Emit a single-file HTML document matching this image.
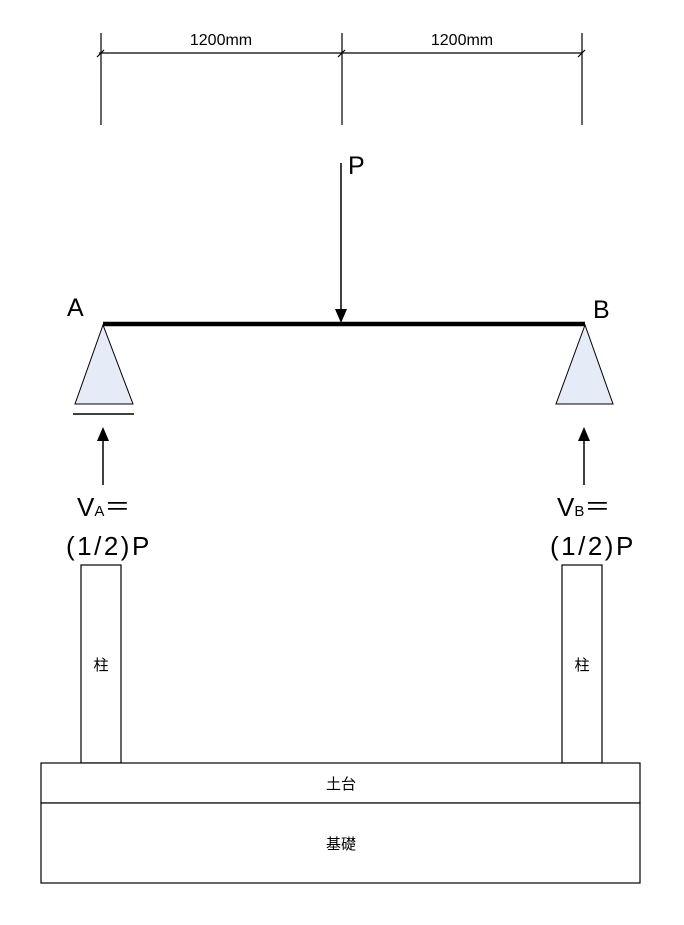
<!DOCTYPE html>
<html><head><meta charset="utf-8"><style>body{margin:0;background:#fff}</style></head><body>
<svg width="684" height="920" xmlns="http://www.w3.org/2000/svg" font-family="Liberation Sans, Noto Sans CJK JP, sans-serif">
<g stroke="#000" stroke-width="1.2" fill="none">
<line x1="99" y1="53" x2="582" y2="53"/>
<line x1="101" y1="33" x2="101" y2="125"/>
<line x1="342" y1="33" x2="342" y2="125"/>
<line x1="582" y1="33" x2="582" y2="125"/>
<line x1="97" y1="57" x2="104" y2="50"/>
<line x1="338" y1="57" x2="345" y2="50"/>
<line x1="578" y1="57" x2="585" y2="50"/>
</g>
<text x="221" y="45" font-size="16" text-anchor="middle">1200mm</text>
<text x="462" y="45" font-size="16" text-anchor="middle">1200mm</text>
<line x1="341" y1="163" x2="341" y2="310" stroke="#000" stroke-width="1.5"/>
<polygon points="335,309 347,309 341,323" fill="#000"/>
<text x="348" y="174" font-size="25">P</text>
<line x1="103" y1="324" x2="585" y2="324" stroke="#000" stroke-width="4.5"/>
<text x="67" y="316" font-size="25">A</text>
<text x="593" y="318" font-size="25">B</text>
<polygon points="103,325 75,404 133,404" fill="#e6ecf7" stroke="#000" stroke-width="1"/>
<line x1="73" y1="414" x2="134" y2="414" stroke="#000" stroke-width="1.5"/>
<polygon points="585,325 556,404 613,404" fill="#e6ecf7" stroke="#000" stroke-width="1"/>
<line x1="103" y1="440" x2="103" y2="485" stroke="#000" stroke-width="1.5"/>
<polygon points="97,441 109,441 103,427" fill="#000"/>
<line x1="584" y1="440" x2="584" y2="485" stroke="#000" stroke-width="1.5"/>
<polygon points="578,441 590,441 584,427" fill="#000"/>
<text x="77" y="516" font-size="26">V<tspan font-size="15">A</tspan>＝</text>
<text x="557" y="516" font-size="26">V<tspan font-size="15">B</tspan>＝</text>
<text x="66" y="555" font-size="26" letter-spacing="2.5">(1/2)P</text>
<text x="550" y="555" font-size="26" letter-spacing="2.5">(1/2)P</text>
<g stroke="#000" stroke-width="1.2" fill="#fff">
<rect x="81" y="565" width="40" height="198"/>
<rect x="562" y="565" width="40" height="198"/>
<rect x="41" y="763" width="599" height="40"/>
<rect x="41" y="803" width="599" height="80"/>
</g>
<text x="101" y="670" font-size="15" text-anchor="middle">柱</text>
<text x="582" y="670" font-size="15" text-anchor="middle">柱</text>
<text x="341" y="789" font-size="15" text-anchor="middle">土台</text>
<text x="341" y="849" font-size="15" text-anchor="middle">基礎</text>
</svg>
</body></html>
